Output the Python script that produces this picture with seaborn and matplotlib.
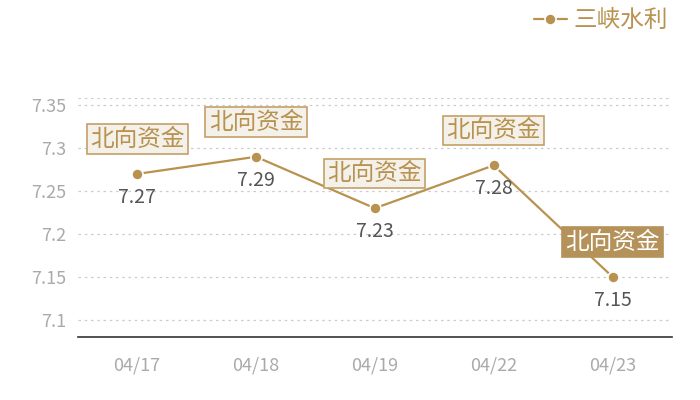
import numpy as np
import pandas as pd
import matplotlib
matplotlib.use("Agg")
import matplotlib.pyplot as plt
import seaborn as sns

# chart data
dates = ["04/17", "04/18", "04/19", "04/22", "04/23"]
prices = [7.27, 7.29, 7.23, 7.28, 7.15]
series_name = "三峡水利"
tag_text = "北向资金"
y_ticks = [7.1, 7.15, 7.2, 7.25, 7.3, 7.35]
y_tick_labels = ["7.1", "7.15", "7.2", "7.25", "7.3", "7.35"]

gold = "#b8924e"
dark_box = "#b5925a"
light_box = "#f4f0ea"
box_edge = "#c4a068"
grid_col = "#cccccc"
tick_col = "#aaaaaa"
label_col = "#555555"

sns.set_style("white")
plt.rcParams["font.family"] = ["Noto Sans CJK SC", "DejaVu Sans"]

df = pd.DataFrame({"date": dates, "price": prices})

fig = plt.figure(figsize=(7, 4), dpi=100)
ax = fig.add_axes([0.111, 0.1575, 0.849, 0.5965])

sns.lineplot(data=df, x="date", y="price", ax=ax, color=gold, linewidth=1.6,
             marker="o", markersize=8, markeredgecolor="white", markeredgewidth=1.2,
             label=series_name, zorder=3)

ax.set_xlim(-0.5, len(dates) - 0.5)
ax.set_ylim(7.08, 7.358)
ax.set_yticks(y_ticks)
ax.set_yticklabels(y_tick_labels)

for y in y_ticks + [7.358]:
    ax.axhline(y, color=grid_col, linestyle=(0, (2, 3)), linewidth=0.9, zorder=0)

for s in ["top", "right", "left"]:
    ax.spines[s].set_visible(False)
ax.spines["bottom"].set_color("#333333")
ax.spines["bottom"].set_linewidth(1.2)

ax.tick_params(axis="both", length=0, labelsize=13, colors=tick_col, pad=14)
ax.tick_params(axis="y", pad=8)
ax.set_xlabel("")
ax.set_ylabel("")

# tag boxes and value labels
for i, (d, v) in enumerate(zip(dates, prices)):
    last = i == len(dates) - 1
    ax.annotate(tag_text, xy=(i, v), xytext=(0, 25), textcoords="offset points",
                ha="center", va="center", fontsize=17,
                color="white" if last else gold, zorder=4,
                bbox=dict(boxstyle="square,pad=0.14",
                          fc=dark_box if last else light_box,
                          ec=dark_box if last else box_edge, lw=1.2))
    ax.annotate(f"{v:.2f}", xy=(i, v), xytext=(0, -17), textcoords="offset points",
                ha="center", va="center", fontsize=14, color=label_col, zorder=4)

leg = ax.legend(loc="upper right", bbox_to_anchor=(0.968, 1.0), bbox_transform=fig.transFigure,
                frameon=False, fontsize=17, handlelength=1.4, handletextpad=0.3,
                borderaxespad=0.0)
for t in leg.get_texts():
    t.set_color(gold)

fig.savefig("out.png", dpi=100)
